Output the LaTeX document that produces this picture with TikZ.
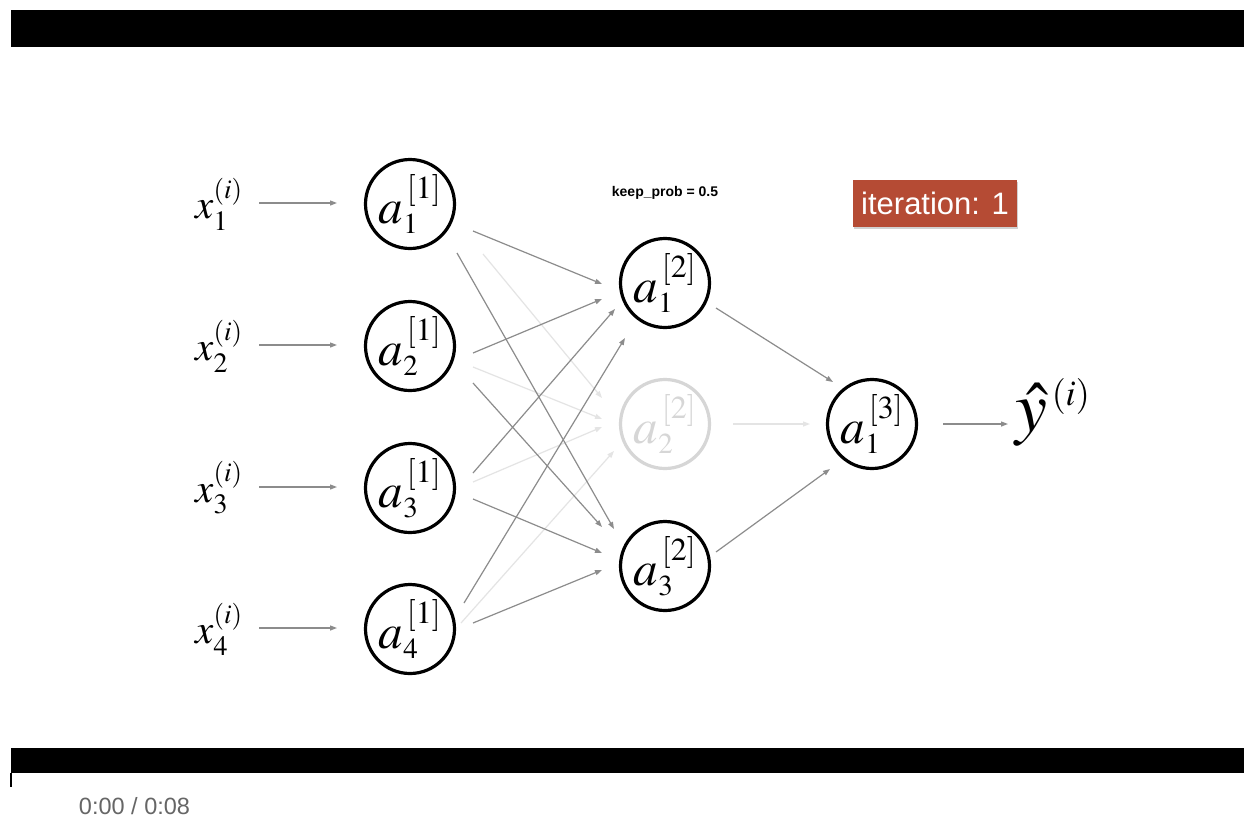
\documentclass[tikz,border=0pt]{standalone}
\usepackage{mathptmx}
\usepackage[no-math]{fontspec}
\setsansfont{Liberation Sans}
\usetikzlibrary{arrows.meta,calc}

\definecolor{linkgray}{HTML}{8C8C8C}
\definecolor{fadegray}{HTML}{E4E4E4}
\definecolor{fadecircle}{HTML}{D6D6D6}
\definecolor{itred}{HTML}{B54B34}
\definecolor{timegray}{HTML}{666666}

% labels of the units, inputs and output
\newcommand{\unitlabel}[2]{\fontsize{49}{50}\selectfont$a^{\mbox{\fontsize{32}{32}\selectfont$\,[#2]$}}_{\mbox{\fontsize{29}{29}\selectfont$#1$}}$}
\newcommand{\inlabel}[1]{\fontsize{41}{42}\selectfont$x^{\mbox{\fontsize{27}{27}\selectfont$(i)$}}_{\mbox{\fontsize{28}{28}\selectfont$#1$}}$}

\tikzset{
  unit/.style={circle, draw=black, line width=3.2pt, minimum size=89pt, inner sep=0pt},
  unitoff/.style={unit, draw=fadecircle, text=fadecircle},
  conn/.style={draw=linkgray, line width=1.2pt, -{Triangle[length=7pt,width=5pt]}},
  connoff/.style={conn, draw=fadegray},
  bar/.style={fill=black, draw=none},
}

\begin{document}
\begin{tikzpicture}[x=1pt,y=-1pt]
\useasboundingbox (0,0) rectangle (1244,817);
\fill[white] (0,0) rectangle (1244,817);

% player bars
\path[bar] (11,10) rectangle (1244,47);
\path[bar] (11,748) rectangle (1244,773);
\draw[line width=2pt] (11,773) -- (11,787);
\node[text=timegray, inner sep=0pt, anchor=base, font=\sffamily\fontsize{23.5}{24}\selectfont] (time) at (134.5,814) {0:00 / 0:08};

% inputs
\node (X1) at (219,204) {\inlabel{1}};
\node (X2) at (219,346) {\inlabel{2}};
\node (X3) at (219,488) {\inlabel{3}};
\node (X4) at (219,629) {\inlabel{4}};

% layer 1
\node[unit] (A1) at (410,204) {\unitlabel{1}{1}};
\node[unit] (A2) at (410,346) {\unitlabel{2}{1}};
\node[unit] (A3) at (410,488) {\unitlabel{3}{1}};
\node[unit] (A4) at (410,629) {\unitlabel{4}{1}};

% layer 2 (second unit dropped)
\node[unit]    (B1) at (665,283) {\unitlabel{1}{2}};
\node[unitoff] (B2) at (665,424) {\unitlabel{2}{2}};
\node[unit]    (B3) at (665,566) {\unitlabel{3}{2}};

% layer 3
\node[unit] (C) at (872,424) {\unitlabel{1}{3}};

% output
\node (Y) at (1053,412) {\fontsize{72}{74}\selectfont$\hat{y}^{\mbox{\fontsize{36}{36}\selectfont$\,(i)$}}$};

% labels
\node[font=\sffamily\bfseries\fontsize{14}{16}\selectfont] (kp) at (665,193) {keep\_prob = 0.5};
\fill[black!18] (853.5,181.5) rectangle (1018,228.5);
\node[fill=itred, text=white, minimum width=164pt, minimum height=47pt, inner sep=0pt,
      font=\sffamily\fontsize{31}{33}\selectfont] (it) at (935,203) {iteration: 1};

% input connections
\draw[conn] ($(X1)+(40,-1)$) -- ($(A1)+(-73,-1)$);
\draw[conn] ($(X2)+(40,-1)$) -- ($(A2)+(-73,-1)$);
\draw[conn] ($(X3)+(40,-1)$) -- ($(A3)+(-73,-1)$);
\draw[conn] ($(X4)+(40,-1)$) -- ($(A4)+(-73,-1)$);

% dropped connections (drawn first, underneath)
\draw[connoff] ($(A1)+(73,50)$) -- ($(B2)+(-63,-26)$);
\draw[connoff] ($(A2)+(63,21)$) -- ($(B2)+(-63,-5)$);
\draw[connoff] ($(A3)+(63,-6)$) -- ($(B2)+(-63,3)$);
\draw[connoff] ($(A4)+(51,-6)$) -- ($(B2)+(-51,27)$);
\draw[connoff] ($(B2)+(68,0)$) -- ($(C)+(-62,0)$);

% layer 1 to layer 2
\draw[conn] ($(A1)+(63,27)$) -- ($(B1)+(-63,1)$);
\draw[conn] ($(A1)+(47,49)$) -- ($(B3)+(-51,-37)$);
\draw[conn] ($(A2)+(63,7)$)  -- ($(B1)+(-63,16)$);
\draw[conn] ($(A2)+(63,37)$) -- ($(B3)+(-63,-39)$);
\draw[conn] ($(A3)+(63,-15)$) -- ($(B1)+(-50,26)$);
\draw[conn] ($(A3)+(63,11)$) -- ($(B3)+(-63,-13)$);
\draw[conn] ($(A4)+(54,-26)$) -- ($(B1)+(-40,55)$);
\draw[conn] ($(A4)+(63,-6)$) -- ($(B3)+(-63,4)$);

% layer 2 to layer 3 and output
\draw[conn] ($(B1)+(51,25)$) -- ($(C)+(-39,-42)$);
\draw[conn] ($(B3)+(51,-14)$) -- ($(C)+(-42,45)$);
\draw[conn] ($(C)+(71,0)$) -- ($(Y)+(-45,12)$);
\end{tikzpicture}
\end{document}
